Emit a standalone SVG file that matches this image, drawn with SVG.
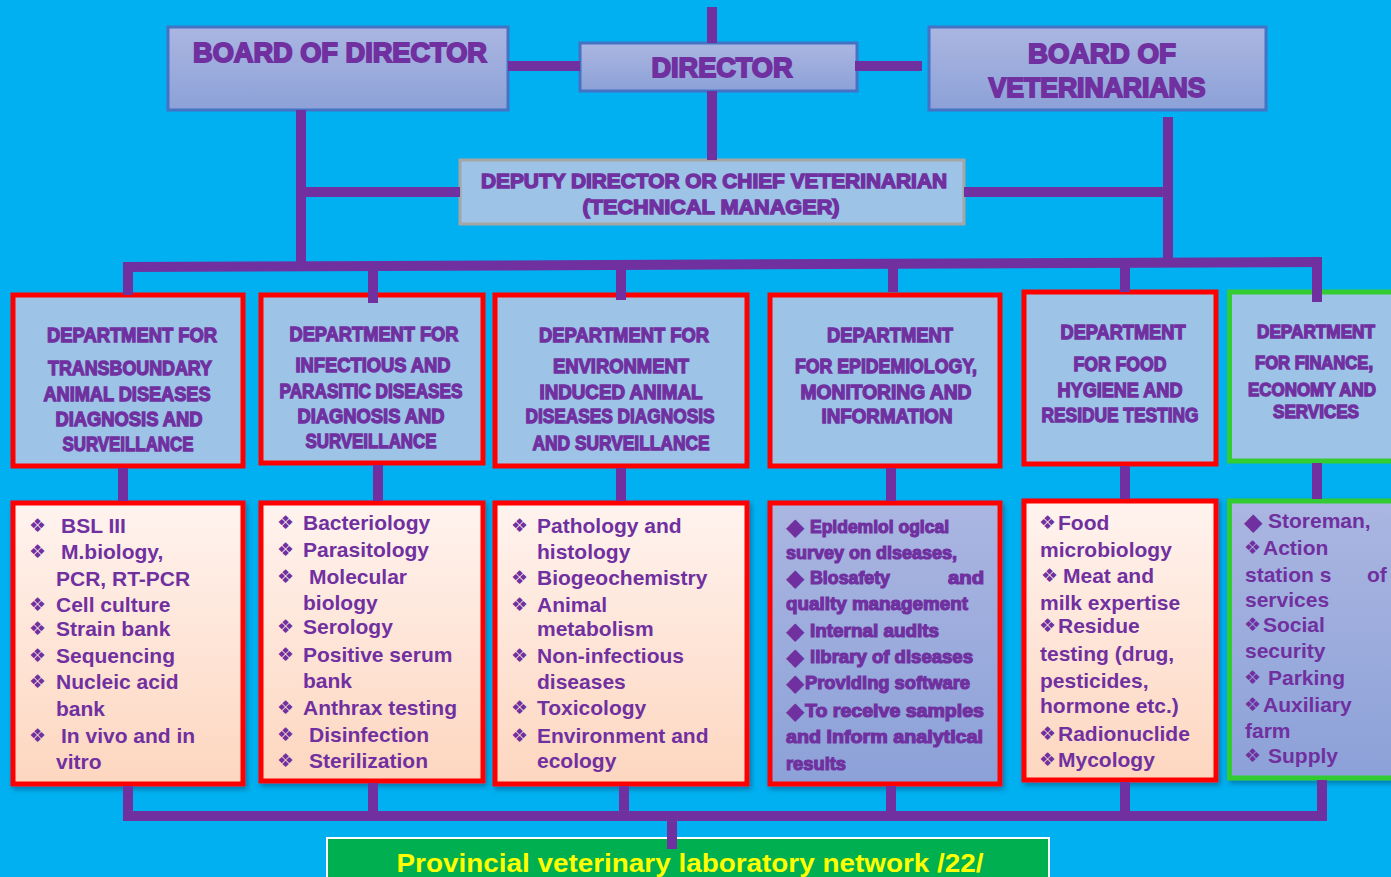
<svg xmlns="http://www.w3.org/2000/svg" width="1391" height="877" viewBox="0 0 1391 877">
<defs>
<linearGradient id="gLav" x1="0" y1="0" x2="0" y2="1"><stop offset="0" stop-color="#ABB6E1"/><stop offset="1" stop-color="#8CA1D8"/></linearGradient>
<linearGradient id="gPeach" x1="0" y1="0" x2="0" y2="1"><stop offset="0" stop-color="#FFF3EF"/><stop offset="1" stop-color="#FDD6BF"/></linearGradient>
<filter id="sh" x="-5%" y="-5%" width="115%" height="115%"><feDropShadow dx="2" dy="3" stdDeviation="2.5" flood-color="#003a60" flood-opacity="0.45"/></filter>
<style>
.top{fill:url(#gLav);stroke:#4472C4;stroke-width:3}
.dep{fill:#9DC3E6;stroke:#A5A5A5;stroke-width:3}
.hdr{fill:#9DC3E6;stroke:#FF0000;stroke-width:5}
.hdrg{fill:#9DC3E6;stroke:#33CC33;stroke-width:5}
.lp{fill:url(#gPeach);stroke:#FF0000;stroke-width:5;filter:url(#sh)}
.ll{fill:url(#gLav);stroke:#FF0000;stroke-width:5;filter:url(#sh)}
.llg{fill:url(#gLav);stroke:#33CC33;stroke-width:5;filter:url(#sh)}
.t1{font-family:"Liberation Sans","DejaVu Sans",sans-serif;font-weight:bold;font-size:27px;fill:#7030A0;stroke:#7030A0;stroke-width:1.8;text-anchor:middle}
.t2{font-family:"Liberation Sans","DejaVu Sans",sans-serif;font-weight:bold;font-size:21px;fill:#7030A0;stroke:#7030A0;stroke-width:1.4;text-anchor:middle}
.h{font-family:"Liberation Sans","DejaVu Sans",sans-serif;font-weight:bold;font-size:20px;fill:#7030A0;stroke:#7030A0;stroke-width:1.3;text-anchor:middle}
.h2{font-family:"Liberation Sans","DejaVu Sans",sans-serif;font-weight:bold;font-size:18px;fill:#7030A0;stroke:#7030A0;stroke-width:1.3;text-anchor:middle}
.it{font-family:"Liberation Sans","DejaVu Sans",sans-serif;font-weight:bold;font-size:21px;fill:#7030A0}
.ep{font-family:"Liberation Sans","DejaVu Sans",sans-serif;font-weight:bold;font-size:19px;fill:#7030A0;stroke:#7030A0;stroke-width:1.2}
.b{font-family:"DejaVu Sans",sans-serif;font-size:19px;fill:#7030A0}
.d{font-family:"DejaVu Sans",sans-serif;font-size:24px;fill:#7030A0}
.net{font-family:"Liberation Sans","DejaVu Sans",sans-serif;font-weight:bold;font-size:25px;fill:#FFFF00;text-anchor:middle}
.c{stroke:#7030A0;stroke-width:10;fill:none}
</style>
</defs>
<rect x="0" y="0" width="1391" height="877" fill="#00B0F0"/>

<g id="board-of-director">
<rect class="top" x="168" y="27" width="340" height="83"/>
<text class="t1" x="340" y="62" textLength="294" lengthAdjust="spacingAndGlyphs">BOARD  OF DIRECTOR</text>
</g>
<g id="director">
<rect class="top" x="580" y="43" width="277" height="48"/>
<text class="t1" x="722" y="77" textLength="141" lengthAdjust="spacingAndGlyphs">DIRECTOR</text>
</g>
<g id="board-of-veterinarians">
<rect class="top" x="929" y="27" width="337" height="83"/>
<text class="t1" x="1102" y="63" textLength="148" lengthAdjust="spacingAndGlyphs">BOARD  OF</text>
<text class="t1" x="1097" y="97" textLength="217" lengthAdjust="spacingAndGlyphs">VETERINARIANS</text>
</g>
<g id="deputy-director">
<rect class="dep" x="460" y="160" width="504" height="64"/>
<text class="t2" x="714" y="188" textLength="466" lengthAdjust="spacingAndGlyphs">DEPUTY DIRECTOR OR CHIEF VETERINARIAN</text>
<text class="t2" x="711" y="214" textLength="257" lengthAdjust="spacingAndGlyphs">(TECHNICAL MANAGER)</text>
</g>

<g id="dept-transboundary">
<rect class="hdr" x="13" y="295" width="230" height="171"/>
<text class="h" x="132" y="342" textLength="170" lengthAdjust="spacingAndGlyphs">DEPARTMENT  FOR</text>
<text class="h" x="130" y="375" textLength="164" lengthAdjust="spacingAndGlyphs">TRANSBOUNDARY</text>
<text class="h" x="127" y="401" textLength="167" lengthAdjust="spacingAndGlyphs">ANIMAL DISEASES</text>
<text class="h" x="129" y="426" textLength="147" lengthAdjust="spacingAndGlyphs">DIAGNOSIS  AND</text>
<text class="h" x="128" y="451" textLength="131" lengthAdjust="spacingAndGlyphs">SURVEILLANCE</text>
</g>
<g id="dept-infectious">
<rect class="hdr" x="261" y="295" width="222" height="168"/>
<text class="h" x="374" y="341" textLength="169" lengthAdjust="spacingAndGlyphs">DEPARTMENT  FOR</text>
<text class="h" x="373" y="372" textLength="155" lengthAdjust="spacingAndGlyphs">INFECTIOUS  AND</text>
<text class="h" x="371" y="398" textLength="183" lengthAdjust="spacingAndGlyphs">PARASITIC DISEASES</text>
<text class="h" x="371" y="423" textLength="147" lengthAdjust="spacingAndGlyphs">DIAGNOSIS  AND</text>
<text class="h" x="371" y="448" textLength="131" lengthAdjust="spacingAndGlyphs">SURVEILLANCE</text>
</g>
<g id="dept-environment">
<rect class="hdr" x="495" y="295" width="252" height="171"/>
<text class="h" x="624" y="342" textLength="170" lengthAdjust="spacingAndGlyphs">DEPARTMENT  FOR</text>
<text class="h" x="621" y="373" textLength="136" lengthAdjust="spacingAndGlyphs">ENVIRONMENT</text>
<text class="h" x="621" y="399" textLength="163" lengthAdjust="spacingAndGlyphs">INDUCED  ANIMAL</text>
<text class="h" x="620" y="423" textLength="189" lengthAdjust="spacingAndGlyphs">DISEASES DIAGNOSIS</text>
<text class="h" x="621" y="450" textLength="177" lengthAdjust="spacingAndGlyphs">AND SURVEILLANCE</text>
</g>
<g id="dept-epidemiology">
<rect class="hdr" x="770" y="295" width="230" height="171"/>
<text class="h" x="890" y="342" textLength="126" lengthAdjust="spacingAndGlyphs">DEPARTMENT</text>
<text class="h" x="886" y="373" textLength="182" lengthAdjust="spacingAndGlyphs">FOR EPIDEMIOLOGY,</text>
<text class="h" x="886" y="399" textLength="171" lengthAdjust="spacingAndGlyphs">MONITORING  AND</text>
<text class="h" x="887" y="423" textLength="131" lengthAdjust="spacingAndGlyphs">INFORMATION</text>
</g>
<g id="dept-food">
<rect class="hdr" x="1024" y="292" width="192" height="172"/>
<text class="h" x="1123" y="339" textLength="125" lengthAdjust="spacingAndGlyphs">DEPARTMENT</text>
<text class="h" x="1120" y="371" textLength="93" lengthAdjust="spacingAndGlyphs">FOR FOOD</text>
<text class="h" x="1120" y="397" textLength="125" lengthAdjust="spacingAndGlyphs">HYGIENE  AND</text>
<text class="h" x="1120" y="422" textLength="157" lengthAdjust="spacingAndGlyphs">RESIDUE TESTING</text>
</g>
<g id="dept-finance">
<rect class="hdrg" x="1229.5" y="292" width="164" height="169"/>
<text class="h2" x="1316" y="338" textLength="118" lengthAdjust="spacingAndGlyphs">DEPARTMENT</text>
<text class="h2" x="1314" y="369" textLength="118" lengthAdjust="spacingAndGlyphs">FOR FINANCE,</text>
<text class="h2" x="1312" y="396" textLength="128" lengthAdjust="spacingAndGlyphs">ECONOMY AND</text>
<text class="h2" x="1316" y="418" textLength="86" lengthAdjust="spacingAndGlyphs">SERVICES</text>
</g>

<g id="list-transboundary">
<rect class="lp" x="13" y="503" width="230" height="281"/>
<text class="b" x="29" y="532">❖</text><text class="it" x="61" y="533">BSL  III</text>
<text class="b" x="29" y="558">❖</text><text class="it" x="61" y="559">M.biology,</text>
<text class="it" x="56" y="586">PCR,  RT-PCR</text>
<text class="b" x="29" y="611">❖</text><text class="it" x="56" y="612">Cell  culture</text>
<text class="b" x="29" y="635">❖</text><text class="it" x="56" y="636">Strain  bank</text>
<text class="b" x="29" y="662">❖</text><text class="it" x="56" y="663">Sequencing</text>
<text class="b" x="29" y="688">❖</text><text class="it" x="56" y="689">Nucleic  acid</text>
<text class="it" x="56" y="716">bank</text>
<text class="b" x="29" y="742">❖</text><text class="it" x="61" y="743">In  vivo  and in</text>
<text class="it" x="56" y="769">vitro</text>
</g>
<g id="list-infectious">
<rect class="lp" x="261" y="503" width="222" height="278"/>
<text class="b" x="277" y="529">❖</text><text class="it" x="303" y="530">Bacteriology</text>
<text class="b" x="277" y="556">❖</text><text class="it" x="303" y="557">Parasitology</text>
<text class="b" x="277" y="583">❖</text><text class="it" x="309" y="584">Molecular</text>
<text class="it" x="303" y="610">biology</text>
<text class="b" x="277" y="633">❖</text><text class="it" x="303" y="634">Serology</text>
<text class="b" x="277" y="661">❖</text><text class="it" x="303" y="662">Positive  serum</text>
<text class="it" x="303" y="688">bank</text>
<text class="b" x="277" y="714">❖</text><text class="it" x="303" y="715">Anthrax testing</text>
<text class="b" x="277" y="741">❖</text><text class="it" x="309" y="742">Disinfection</text>
<text class="b" x="277" y="767">❖</text><text class="it" x="309" y="768">Sterilization</text>
</g>
<g id="list-environment">
<rect class="lp" x="495" y="503" width="252" height="281"/>
<text class="b" x="511" y="532">❖</text><text class="it" x="537" y="533">Pathology  and</text>
<text class="it" x="537" y="559">histology</text>
<text class="b" x="511" y="584">❖</text><text class="it" x="537" y="585">Biogeochemistry</text>
<text class="b" x="511" y="611">❖</text><text class="it" x="537" y="612">Animal</text>
<text class="it" x="537" y="636">metabolism</text>
<text class="b" x="511" y="662">❖</text><text class="it" x="537" y="663">Non-infectious</text>
<text class="it" x="537" y="689">diseases</text>
<text class="b" x="511" y="714">❖</text><text class="it" x="537" y="715">Toxicology</text>
<text class="b" x="511" y="742">❖</text><text class="it" x="537" y="743">Environment   and</text>
<text class="it" x="537" y="768">ecology</text>
</g>
<g id="list-epidemiology">
<rect class="ll" x="770" y="503" width="230" height="281"/>
<text class="d" x="786" y="535">◆</text><text class="ep" x="810" y="533" textLength="139" lengthAdjust="spacingAndGlyphs">Epidemiol ogical</text>
<text class="ep" x="786" y="559" textLength="171" lengthAdjust="spacingAndGlyphs">survey on  diseases,</text>
<text class="d" x="786" y="586">◆</text><text class="ep" x="810" y="584" textLength="80" lengthAdjust="spacingAndGlyphs">Biosafety</text><text class="ep" x="948" y="584" textLength="36" lengthAdjust="spacingAndGlyphs">and</text>
<text class="ep" x="786" y="610" textLength="182" lengthAdjust="spacingAndGlyphs">quality management</text>
<text class="d" x="786" y="639">◆</text><text class="ep" x="810" y="637" textLength="129" lengthAdjust="spacingAndGlyphs">Internal audits</text>
<text class="d" x="786" y="665">◆</text><text class="ep" x="810" y="663" textLength="163" lengthAdjust="spacingAndGlyphs">library  of diseases</text>
<text class="d" x="786" y="691">◆</text><text class="ep" x="805" y="689" textLength="165" lengthAdjust="spacingAndGlyphs">Providing software</text>
<text class="d" x="786" y="719">◆</text><text class="ep" x="805" y="717" textLength="179" lengthAdjust="spacingAndGlyphs">To  receive  samples</text>
<text class="ep" x="786" y="743" textLength="197" lengthAdjust="spacingAndGlyphs">and   Inform analytical</text>
<text class="ep" x="786" y="770" textLength="60" lengthAdjust="spacingAndGlyphs">results</text>
</g>
<g id="list-food">
<rect class="lp" x="1024" y="501" width="192" height="279"/>
<text class="b" x="1039" y="529">❖</text><text class="it" x="1058" y="530">Food</text>
<text class="it" x="1040" y="557">microbiology</text>
<text class="b" x="1041" y="582">❖</text><text class="it" x="1063" y="583">Meat  and</text>
<text class="it" x="1040" y="610">milk  expertise</text>
<text class="b" x="1039" y="632">❖</text><text class="it" x="1058" y="633">Residue</text>
<text class="it" x="1040" y="661">testing  (drug,</text>
<text class="it" x="1040" y="688">pesticides,</text>
<text class="it" x="1040" y="713">hormone  etc.)</text>
<text class="b" x="1039" y="740">❖</text><text class="it" x="1058" y="741">Radionuclide</text>
<text class="b" x="1039" y="766">❖</text><text class="it" x="1058" y="767">Mycology</text>
</g>
<g id="list-finance">
<rect class="llg" x="1229.5" y="501" width="164" height="277"/>
<text class="d" x="1244" y="530">◆</text><text class="it" x="1268" y="528">Storeman,</text>
<text class="b" x="1244" y="554">❖</text><text class="it" x="1263" y="555">Action</text>
<text class="it" x="1245" y="582">station s</text><text class="it" x="1367" y="582">of</text>
<text class="it" x="1245" y="607">services</text>
<text class="b" x="1244" y="631">❖</text><text class="it" x="1263" y="632">Social</text>
<text class="it" x="1245" y="658">security</text>
<text class="b" x="1244" y="684">❖</text><text class="it" x="1268" y="685">Parking</text>
<text class="b" x="1244" y="711">❖</text><text class="it" x="1263" y="712">Auxiliary</text>
<text class="it" x="1245" y="738">farm</text>
<text class="b" x="1244" y="762">❖</text><text class="it" x="1268" y="763">Supply</text>
</g>

<g id="provincial-network">
<rect x="327" y="838" width="722" height="50" fill="#00B050" stroke="#FFFFFF" stroke-width="2"/>
<text class="net" x="690" y="872" textLength="587" lengthAdjust="spacingAndGlyphs">Provincial veterinary laboratory  network /22/</text>
</g>

<g id="connectors" class="c">
<path d="M712,7 V43 M712,91 V160"/>
<path d="M508,66 H580 M855,66 H922"/>
<path d="M301,110 V267 M301,192 H460"/>
<path d="M964,192 H1168 M1168,117 V262"/>
<path d="M123,267 L1322,262"/>
<path d="M128,262 V295 M373,265 V303 M621,265 V300 M893,264 V292 M1125,263 V292 M1317,257 V302"/>
<path d="M123,468 V501 M378,465 V501 M621,468 V501 M891,468 V501 M1125,466 V499 M1317,463 V499"/>
<path d="M128,786 V816 M373,783 V816 M624,786 V816 M891,786 V816 M1125,782 V816 M1322,780 V816"/>
<path d="M123,816 H1327"/>
<path d="M672,816 V849"/>
</g>
</svg>
